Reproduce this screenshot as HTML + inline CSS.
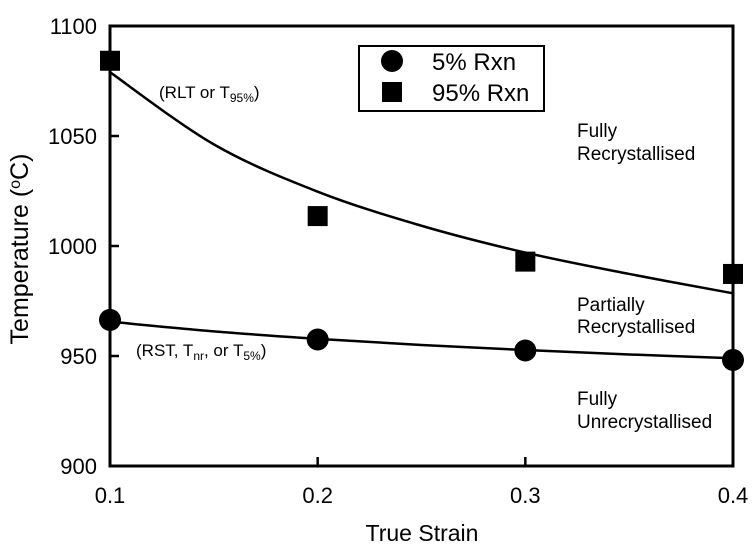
<!DOCTYPE html>
<html><head><meta charset="utf-8"><style>
html,body{margin:0;padding:0;background:#fff;}
svg{display:block;font-family:"Liberation Sans",Arial,sans-serif;}
</style></head><body>
<svg id="chart" width="756" height="545" viewBox="0 0 756 545"></svg>
<script>
const xTicks=[0.1,0.2,0.3,0.4];
const yTicks=[900,950,1000,1050,1100];
const strain=[0.1,0.2,0.3,0.4];
const rxn5=[966.4,957.5,952.5,948.2];
const rxn95=[1084.2,1013.6,992.9,987.3];
const fitStrain=[0.1,0.15,0.2,0.25,0.3,0.35,0.4];
const fit95=[1079,1046.2,1024.7,1009.2,997,987.3,978.5];
const fit5=[965.6,961.2,957.8,955,952.7,950.7,949];

const X0=110,X1=733,Y0=466,Y1=26;
function sx(v){return X0+(v-0.1)/(0.4-0.1)*(X1-X0);}
function sy(v){return Y0-(v-900)/(1100-900)*(Y0-Y1);}
const svg=document.getElementById('chart');
const NS='http://www.w3.org/2000/svg';
function mk(tag,attrs,parent){const e=document.createElementNS(NS,tag);for(const k in attrs)e.setAttribute(k,attrs[k]);(parent||svg).appendChild(e);return e;}

let frame=mk('rect',{x:X0,y:Y1,width:X1-X0,height:Y0-Y1,fill:'none',stroke:'#000','stroke-width':3});



yTicks.forEach(v=>{
  const t=mk('line',{x1:X0,x2:X0+9,y1:sy(v),y2:sy(v),stroke:'#000','stroke-width':2.5});
  
  
  const l=mk('text',{x:97,y:sy(v)+8,'text-anchor':'end','font-size':22});
  l.textContent=v;
  
  
});
xTicks.forEach(v=>{
  const t=mk('line',{x1:sx(v),x2:sx(v),y1:Y0,y2:Y0-9,stroke:'#000','stroke-width':2.5});
  
  
  const l=mk('text',{x:sx(v),y:503,'text-anchor':'middle','font-size':22});
  l.textContent=v.toFixed(1);
  
  
});
let xt=mk('text',{x:422,y:541,'text-anchor':'middle','font-size':23});
xt.textContent='True Strain';


let yt=mk('text',{x:0,y:0,'text-anchor':'middle','font-size':25,transform:'translate(28,249) rotate(-90)'});
yt.innerHTML='Temperature (<tspan dy="-8" font-size="16">o</tspan><tspan dy="8">C)</tspan>';



function curve(xs,ys){
  const p=xs.map((x,i)=>[sx(x),sy(ys[i])]);
  let d='M'+p[0][0]+','+p[0][1];
  for(let i=0;i<p.length-1;i++){
    const a=p[Math.max(i-1,0)],b=p[i],c=p[i+1],e=p[Math.min(i+2,p.length-1)];
    d+=' C'+(b[0]+(c[0]-a[0])/6)+','+(b[1]+(c[1]-a[1])/6)+' '+(c[0]-(e[0]-b[0])/6)+','+(c[1]-(e[1]-b[1])/6)+' '+c[0]+','+c[1];
  }
  return d;
}
let c1=mk('path',{d:curve(fitStrain,fit95),fill:'none',stroke:'#000','stroke-width':2.5});


let c2=mk('path',{d:curve(fitStrain,fit5),fill:'none',stroke:'#000','stroke-width':2.5});



strain.forEach((x,i)=>{
  const s=mk('rect',{x:sx(x)-10,y:sy(rxn95[i])-10,width:20,height:20,fill:'#000'});
  
  
  const c=mk('circle',{cx:sx(x),cy:sy(rxn5[i]),r:11,fill:'#000'});
  
  
});

let lg=mk('g',{});


mk('rect',{x:359,y:46,width:185,height:65,fill:'#fff',stroke:'#000','stroke-width':2},lg);
mk('circle',{cx:392,cy:61,r:11,fill:'#000'},lg);
mk('rect',{x:382,y:82,width:20,height:20,fill:'#000'},lg);
let l1=mk('text',{x:432,y:70,'font-size':24},lg);l1.textContent='5% Rxn';
let l2=mk('text',{x:432,y:101,'font-size':24},lg);l2.textContent='95% Rxn';

function label(x,y,html,name,fs){
  const t=mk('text',{x:x,y:y,'font-size':fs||19});
  t.innerHTML=html;
  
  
}
label(159,98,'(RLT or T<tspan dy="4" font-size="12">95%</tspan><tspan dy="-4">)</tspan>','rlt-label',17);
label(136,356,'(RST, T<tspan dy="4" font-size="12">nr</tspan><tspan dy="-4">, or T</tspan><tspan dy="4" font-size="12">5%</tspan><tspan dy="-4">)</tspan>','rst-label',17);
label(577,137,'Fully','fully-recrystallised-label');
label(577,160,'Recrystallised','fully-recrystallised-label-2');
label(577,311,'Partially','partially-recrystallised-label');
label(577,333,'Recrystallised','partially-recrystallised-label-2');
label(577,405,'Fully','fully-unrecrystallised-label');
label(577,428,'Unrecrystallised','fully-unrecrystallised-label-2');
</script>
</body></html>
